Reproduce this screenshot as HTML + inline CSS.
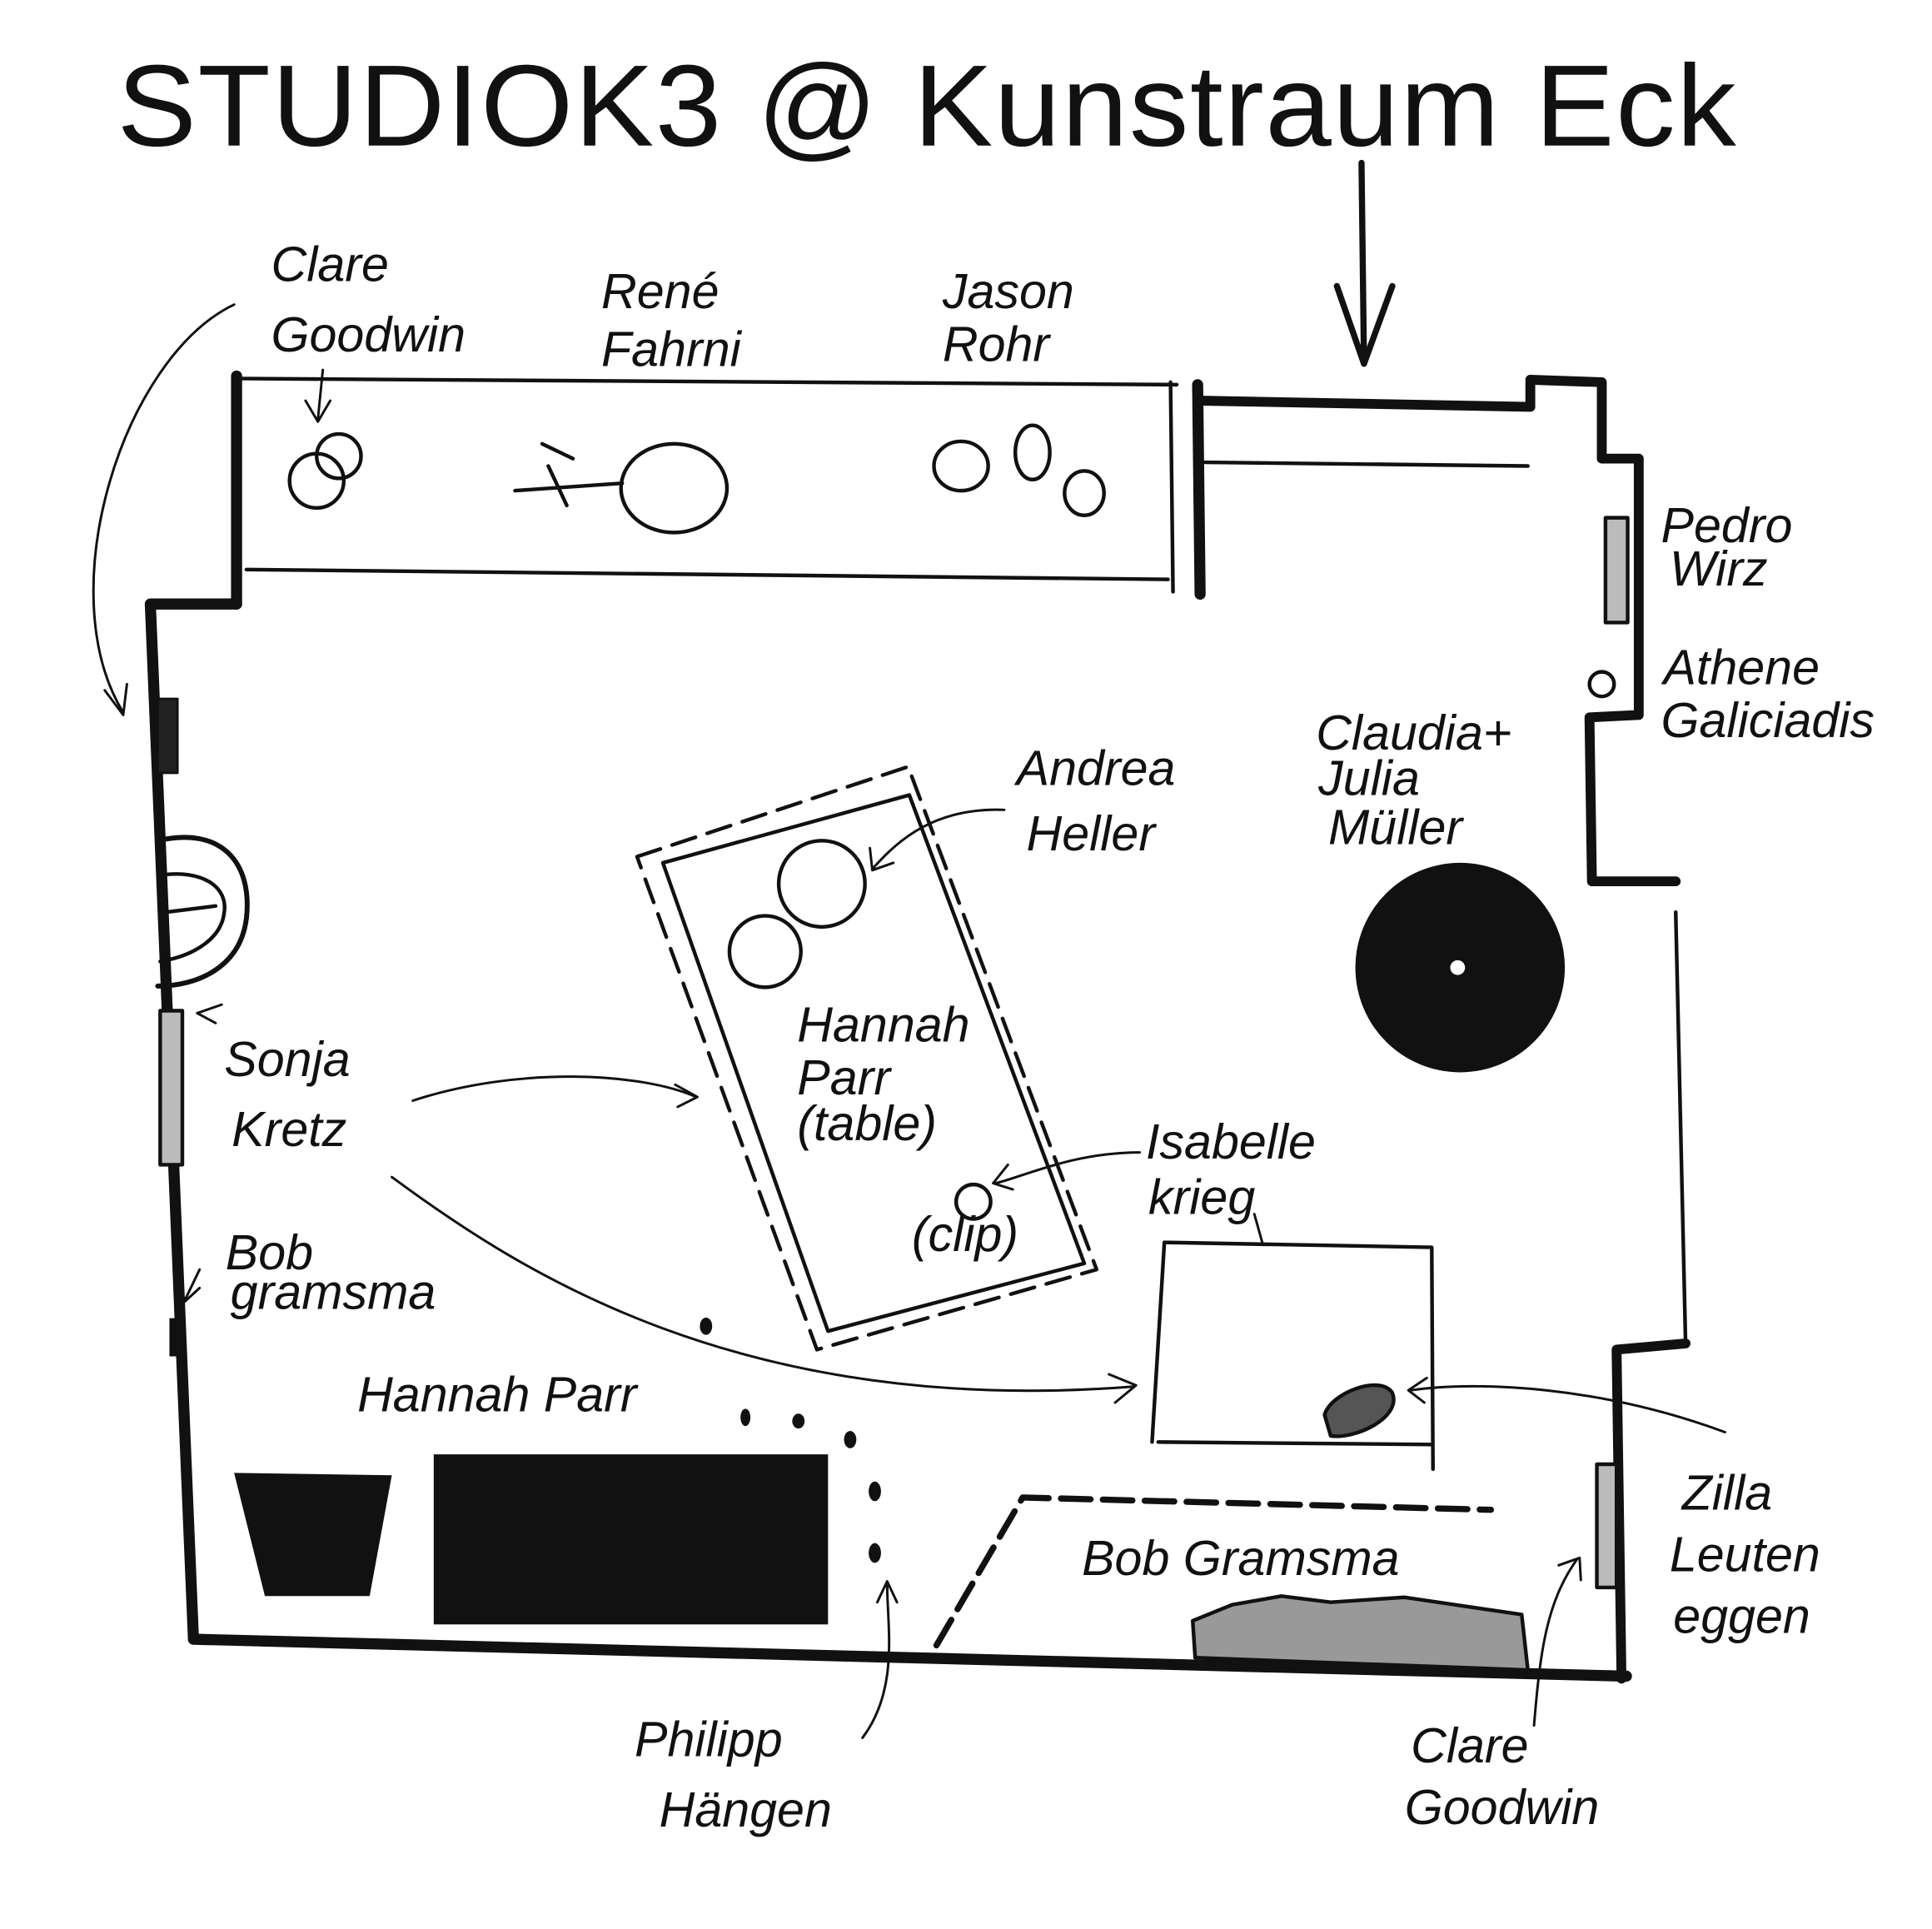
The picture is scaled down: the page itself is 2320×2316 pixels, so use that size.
<!DOCTYPE html>
<html><head><meta charset="utf-8"><style>
html,body{margin:0;padding:0;background:#fff;}
svg{display:block;}
text{font-family:"Liberation Sans",sans-serif;fill:#111;}
.t{font-size:40px;font-style:italic;}
</style></head><body>
<svg width="2320" height="2316" viewBox="0 0 1568 1565" xmlns="http://www.w3.org/2000/svg">
<rect width="1568" height="1565" fill="#fff"/>
<text x="95" y="118" font-size="94" letter-spacing="1" textLength="1315" lengthAdjust="spacingAndGlyphs">STUDIOK3 @ Kunstraum Eck</text>
<g fill="none" stroke="#111" stroke-linecap="round" stroke-linejoin="round">
<path d="M1105 132 L1107 295" stroke-width="5"/>
<path d="M1085 232 L1107 295 L1130 232" stroke-width="5"/>
<path d="M192 305 L192 490" stroke-width="9"/>
<path d="M192 307 L955 312" stroke-width="3"/>
<path d="M200 462 L948 470" stroke-width="3"/>
<path d="M950 310 L952 480" stroke-width="3"/>
<path d="M972 312 L974 482" stroke-width="9"/>
<path d="M192 490 L122 490 L157 1330 L1320 1360" stroke-width="9"/>
<path d="M975 325 L1242 330 L1242 308 L1300 310 L1300 372 L1330 372 L1330 580 L1290 582 L1292 715 L1360 715" stroke-width="8"/>
<path d="M978 375 L1240 378" stroke-width="3"/>
<path d="M1360 740 L1368 1090" stroke-width="3"/>
<path d="M1368 1090 L1312 1095 L1316 1362" stroke-width="8"/>
<rect x="128" y="567" width="16" height="60" fill="#222" stroke-width="2"/>
<rect x="130" y="820" width="18" height="125" fill="#bbb" stroke-width="3"/>
<rect x="1303" y="420" width="18" height="85" fill="#bbb" stroke-width="3"/>
<rect x="1296" y="1188" width="16" height="100" fill="#bbb" stroke-width="3"/>
<circle cx="1300" cy="555" r="10" stroke-width="3"/>
<rect x="138" y="1070" width="10" height="30" fill="#111"/>
<path d="M128 682 C180 670 205 700 200 745 C195 785 160 800 128 800" stroke-width="4"/>
<path d="M130 710 C165 705 185 720 182 740 C180 760 160 775 130 780" stroke-width="3"/>
<path d="M135 740 L175 735" stroke-width="3"/>
<circle cx="257" cy="390" r="22" stroke-width="3"/>
<circle cx="275" cy="370" r="18" stroke-width="3"/>
<ellipse cx="547" cy="396" rx="43" ry="36" stroke-width="3"/>
<path d="M418 398 L505 392 M445 378 L460 410 M440 360 L465 372" stroke-width="3"/>
<ellipse cx="780" cy="378" rx="22" ry="20" stroke-width="3"/>
<ellipse cx="838" cy="367" rx="14" ry="22" stroke-width="3"/>
<ellipse cx="880" cy="400" rx="16" ry="18" stroke-width="3"/>
<path d="M517 695 L737 622 L890 1030 L663 1095 Z" stroke-width="3" stroke-dasharray="20 10"/>
<path d="M538 700 L738 645 L880 1025 L672 1080 Z" stroke-width="3"/>
<circle cx="667" cy="717" r="35" stroke-width="3"/>
<circle cx="621" cy="772" r="29" stroke-width="3"/>
<circle cx="790" cy="975" r="14" stroke-width="3"/>
<circle cx="1185" cy="785" r="85" fill="#111" stroke="none"/>
<circle cx="1183" cy="785" r="6" fill="#fff" stroke="none"/>
<path d="M945 1008 L1162 1012 L1163 1192 M940 1170 L1162 1172 M945 1008 L935 1170" stroke-width="3"/>
<path d="M1075 1148 C1080 1130 1120 1115 1130 1130 C1138 1150 1100 1168 1080 1165 Z" fill="#555" stroke-width="3"/>
<rect x="352" y="1180" width="320" height="138" fill="#111" stroke="none"/>
<path d="M190 1195 L318 1197 L300 1295 L215 1295 Z" fill="#111" stroke="none"/>
<path d="M760 1335 L830 1215 L1210 1225" stroke-width="5" stroke-dasharray="24 10"/>
<path d="M968 1315 L1000 1302 L1040 1295 L1080 1300 L1140 1296 L1235 1310 L1240 1355 L970 1345 Z" fill="#999" stroke-width="3"/>
<g fill="#111" stroke="none">
<ellipse cx="573" cy="1076" rx="5" ry="7"/><ellipse cx="605" cy="1150" rx="4" ry="7"/>
<ellipse cx="648" cy="1153" rx="5" ry="6"/><ellipse cx="690" cy="1168" rx="5" ry="7"/>
<ellipse cx="710" cy="1210" rx="5" ry="8"/><ellipse cx="710" cy="1260" rx="5" ry="8"/>
</g>
<path d="M190 247 C100 290 40 480 100 578" stroke-width="2"/>
<path d="M85 560 L100 580 L103 555" stroke-width="2"/>
<path d="M262 300 L258 340 M248 325 L258 342 L268 325" stroke-width="2"/>
<path d="M815 657 C760 655 730 680 708 705 M706 688 L708 706 L725 700" stroke-width="2"/>
<path d="M160 822 L180 815 M160 822 L175 830" stroke-width="2"/>
<path d="M335 893 C420 865 520 870 565 890 M548 880 L566 890 L550 898" stroke-width="2"/>
<path d="M318 955 C420 1030 600 1150 920 1125 M900 1115 L922 1124 L905 1138" stroke-width="2"/>
<path d="M925 935 C870 935 830 955 808 960 M818 945 L806 960 L822 965" stroke-width="2"/>
<path d="M1018 985 L1025 1010" stroke-width="2"/>
<path d="M1400 1162 C1300 1125 1200 1120 1145 1128 M1158 1118 L1143 1128 L1156 1138" stroke-width="2"/>
<path d="M162 1030 L150 1055 M145 1040 L150 1056 L162 1045" stroke-width="2"/>
<path d="M700 1410 C730 1370 720 1320 720 1285 M712 1300 L720 1283 L728 1300" stroke-width="2"/>
<path d="M1245 1400 C1250 1340 1255 1300 1280 1265 M1265 1270 L1282 1264 L1283 1282" stroke-width="2"/>
</g>
<text class="t" x="220" y="228">Clare</text>
<text class="t" x="220" y="285">Goodwin</text>
<text class="t" x="488" y="250">René</text>
<text class="t" x="488" y="297">Fahrni</text>
<text class="t" x="765" y="250">Jason</text>
<text class="t" x="765" y="293">Rohr</text>
<text class="t" x="1348" y="440">Pedro</text>
<text class="t" x="1355" y="475">Wirz</text>
<text class="t" x="1350" y="555">Athene</text>
<text class="t" x="1348" y="598">Galiciadis</text>
<text class="t" x="1068" y="608">Claudia+</text>
<text class="t" x="1070" y="645">Julia</text>
<text class="t" x="1078" y="685">Müller</text>
<text class="t" x="825" y="637">Andrea</text>
<text class="t" x="833" y="690">Heller</text>
<text class="t" x="647" y="845">Hannah</text>
<text class="t" x="647" y="888">Parr</text>
<text class="t" x="647" y="925">(table)</text>
<text class="t" x="182" y="873">Sonja</text>
<text class="t" x="188" y="930">Kretz</text>
<text class="t" x="930" y="940">Isabelle</text>
<text class="t" x="932" y="985">krieg</text>
<text class="t" x="740" y="1015" font-size="32">(clip)</text>
<text class="t" x="183" y="1030" font-size="34">Bob</text>
<text class="t" x="187" y="1062" font-size="34">gramsma</text>
<text class="t" x="290" y="1145">Hannah Parr</text>
<text class="t" x="878" y="1278">Bob Gramsma</text>
<text class="t" x="1365" y="1225">Zilla</text>
<text class="t" x="1355" y="1275">Leuten</text>
<text class="t" x="1358" y="1325">eggen</text>
<text class="t" x="515" y="1425">Philipp</text>
<text class="t" x="535" y="1482">Hängen</text>
<text class="t" x="1145" y="1430">Clare</text>
<text class="t" x="1140" y="1480">Goodwin</text>
</svg>
</body></html>
